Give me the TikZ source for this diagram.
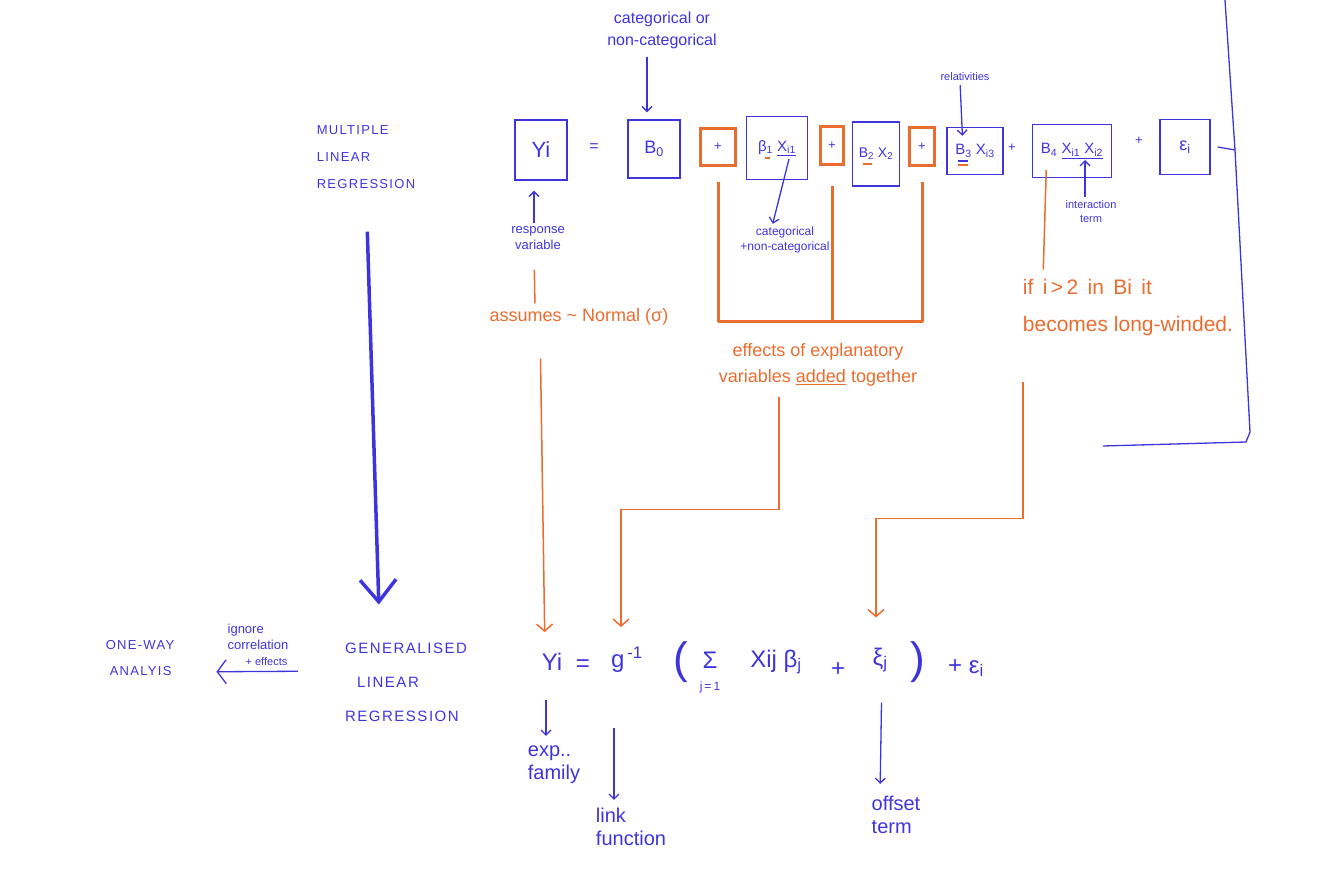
\documentclass[tikz,border=0pt]{standalone}
\usepackage{fontspec}
\setmainfont{Liberation Sans}
\newfontfamily\capsfont[LetterSpace=10]{Liberation Sans}
\usetikzlibrary{arrows.meta}
\definecolor{penblue}{RGB}{62,52,222}
\definecolor{penorange}{RGB}{234,108,46}

\begin{document}
\begin{tikzpicture}[x=1pt,y=-1pt,
  hand/.style={inner sep=0pt,align=center,text=penblue},
  tiny/.style={hand,font=\fontsize{11}{14}\selectfont},
  small/.style={hand,font=\fontsize{13}{16}\selectfont},
  big/.style={hand,font=\fontsize{16}{22}\selectfont},
  lower/.style={hand,align=left,font=\fontsize{20}{23}\selectfont},
  caps/.style={hand,align=left,font=\capsfont\fontsize{13}{27}\selectfont},
  onote/.style={hand,text=penorange,font=\fontsize{18}{26}\selectfont},
  formula/.style={hand,font=\fontsize{24}{28}\selectfont},
  box/.style={draw=penblue,line width=1.4pt,text=penblue,inner sep=2pt,font=\fontsize{15}{15}\selectfont},
  plusbox/.style={draw=penorange,line width=3pt,text=penblue,font=\fontsize{13}{13}\selectfont},
  pen/.style={draw=penblue,line width=1.3pt},
  arr/.style={pen,-{Straight Barb[length=5pt,width=10pt]}},
  oline/.style={draw=penorange,line width=1.5pt},
  oarr/.style={oline,-{Straight Barb[length=7pt,width=16pt]}},
  bracket/.style={draw=penorange,line width=3pt,line join=round}]

\useasboundingbox (0,0) rectangle (1334,890);

% the model, term by term
\node[box,minimum width=52pt,minimum height=60pt,font=\fontsize{22}{22}\selectfont] (yi) at (541,150) {Yi};
\node[big] (eq) at (594,148) {=};
\node[box,minimum width=52pt,minimum height=58pt,font=\fontsize{18}{18}\selectfont] (b0) at (654,149) {B\textsubscript{0}};
\node[plusbox,minimum width=35pt,minimum height=37pt] (p1) at (718,147) {+};
\node[box,minimum width=61pt,minimum height=63pt] (b1) at (777,148) {β\textsubscript{1} \underline{X\textsubscript{i1}}};
\node[plusbox,minimum width=23pt,minimum height=38pt] (p2) at (832,146) {+};
\node[box,minimum width=47pt,minimum height=64pt,font=\fontsize{14}{14}\selectfont] (b2) at (876,154) {B\textsubscript{2} X\textsubscript{2}};
\node[plusbox,minimum width=25pt,minimum height=38pt] (p3) at (922,147) {+};
\node[box,minimum width=56pt,minimum height=47pt] (b3) at (975,151) {B\textsubscript{3} X\textsubscript{i3}};
\node[small] (pl4) at (1012,148) {+};
\node[box,minimum width=79pt,minimum height=53pt] (b4) at (1072,151) {B\textsubscript{4} \underline{X\textsubscript{i1} X\textsubscript{i2}}};
\node[small] (pl5) at (1139,141) {+};
\node[box,minimum width=50pt,minimum height=55pt,font=\fontsize{18}{18}\selectfont] (ei) at (1185,147) {ε\textsubscript{i}};

% marks under the coefficients
\draw[oline] ([shift={(-12pt,-10pt)}]b1.center) -- ++(5,0);
\draw[oline] ([shift={(-13pt,-10pt)}]b2.center) -- ++(9,0);
\draw[pen] ([shift={(-17pt,-10pt)}]b3.center) -- ++(10,0);
\draw[oline] ([shift={(-17pt,-14pt)}]b3.center) -- ++(10,0);

% frame on the right
\coordinate (rim) at (1235,150);
\draw[pen] (1225,0) -- (rim) -- (1250,432) -- (1246,442) -- (1103,446);
\draw[pen] ([xshift=7pt]ei.east) -- (rim);

% notes on the top row
\node[big] (catlbl) at (662,30) {categorical or\\non-categorical};
\node[small] (resplbl) at (538,238) {response\\variable};
\node[hand,font=\fontsize{12}{15}\selectfont] (catlbl2) at (785,240) {categorical\\+non-categorical};
\node[tiny] (rellbl) at (965,77) {relativities};
\node[tiny] (intlbl) at (1091,212) {interaction\\term};

\draw[arr,shorten <=8pt,shorten >=7pt] ([xshift=-15pt]catlbl.south) -- ([xshift=-7pt]b0.north);
\draw[arr,shorten <=3pt,shorten >=10pt] ([xshift=-4pt]resplbl.north) -- ([xshift=-7pt]yi.south);
\draw[arr,shorten >=3pt] ([xshift=12pt,yshift=-11pt]b1.center) -- ([xshift=-13pt]catlbl2.north);
\draw[arr,shorten <=4pt,shorten >=-9pt] ([xshift=-5pt]rellbl.south) -- ([xshift=-13pt]b3.north);
\draw[arr,shorten <=4pt] ([xshift=-6pt]intlbl.north) -- ([xshift=13pt,yshift=-9pt]b4.center);

% orange notes
\node[onote] (assumes) at (579,317) {assumes \textasciitilde\ Normal (σ)};
\node[onote] (effects) at (818,365) {effects of explanatory\\variables \underline{added} together};
\node[onote,align=left,font=\fontsize{21}{37}\selectfont] (iflbl) at (1128,308) {if\, i\,>\,2\, in\, Bi\, it\\becomes long-winded.};

\coordinate (brk) at (818,322);
\draw[bracket] ([yshift=-15pt]p1.south) |- (brk) -| ([yshift=-15pt]p3.south);
\draw[bracket] ([yshift=-20pt]p2.south) -- (p2.south |- brk);

\draw[oline,shorten <=20pt,shorten >=5pt] ([xshift=-4pt]resplbl.south) -- ([xshift=-44pt]assumes.north);
\draw[oline,shorten <=-8pt,shorten >=10pt] ([xshift=-26pt]b4.south) -- ([xshift=-85pt]iflbl.north);

% the generalised model
\node[formula] (ylow) at (552,662) {Yi};
\node[formula] (eqlow) at (583,666) {=};
\node[formula] (ginv) at (627,660) {g\textsuperscript{\,-1}};
\node[formula,font=\fontsize{44}{44}\selectfont] (lpar) at (681,662) {(};
\node[formula] (sumlow) at (710,672) {Σ\\[-6pt]{\fontsize{12}{12}\selectfont j\,=\,1}};
\node[formula] (xb) at (776,662) {Xij β\textsubscript{j}};
\node[formula] (pluslow) at (838,670) {+};
\node[formula] (offset) at (880,660) {ξ\textsubscript{j}};
\node[formula,font=\fontsize{44}{44}\selectfont] (rpar) at (918,662) {)};
\node[formula] (epslow) at (966,668) {+ ε\textsubscript{i}};

\draw[oarr,shorten <=33pt,shorten >=21pt] ([xshift=-39pt]assumes.south) -- ([xshift=-7pt]ylow.north);
\draw[oarr,shorten >=20pt] ([xshift=-39pt]effects.south) ++(0,10) -- ++(0,113) -| ([xshift=-6pt]ginv.north);
\draw[oarr,shorten >=30pt] ([xshift=-105pt]iflbl.south) ++(0,46) -- ++(0,136) -| ([xshift=-4pt]offset.north);

\node[lower] (explbl) at (554,765) {exp..\\family};
\node[lower] (linklbl) at (631,827) {link\\function};
\node[lower] (offlbl) at (896,815) {offset\\term};

\draw[arr,shorten <=29pt,shorten >=10pt] ([xshift=-6pt]ylow.south) -- ([xshift=-8pt]explbl.north);
\draw[arr,shorten <=55pt,shorten >=8pt] ([xshift=-13pt]ginv.south) -- ([xshift=-17pt]linklbl.north);
\draw[arr,shorten <=30pt,shorten >=12pt] ([xshift=2pt]offset.south) -- ([xshift=-16pt]offlbl.north);

% model families
\node[caps] (mlr) at (366,157) {MULTIPLE\\LINEAR\\REGRESSION};
\node[caps,font=\capsfont\fontsize{15}{34}\selectfont] (glr) at (406,682) {GENERALISED\\\hspace*{12pt}LINEAR\\REGRESSION};
\node[caps,font=\capsfont\fontsize{13}{26}\selectfont] (oneway) at (140,658) {ONE-WAY\\\hspace*{4pt}ANALYIS};
\node[small,align=left] (ign) at (258,645) {ignore\\correlation\\\hspace*{18pt}{\fontsize{11}{11}\selectfont + effects}};

\draw[penblue,line width=3.5pt,-{Straight Barb[length=22pt,width=36pt]},shorten <=43pt,shorten >=38pt] (mlr.south) -- ([xshift=-26pt]glr.north);
\draw[arr,-{Straight Barb[length=9pt,width=24pt]},shorten <=47pt,shorten >=42pt] ([yshift=11pt]glr.west) -- ([yshift=-14pt]oneway.east);

\end{tikzpicture}
\end{document}
